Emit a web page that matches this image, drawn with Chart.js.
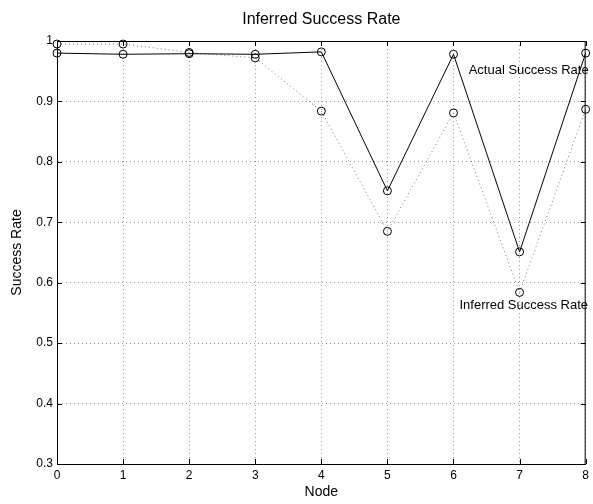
<!DOCTYPE html>
<html>
<head>
<meta charset="utf-8">
<script src="https://cdn.jsdelivr.net/npm/chart.js@4/dist/chart.umd.min.js"></script>
<style>
  html, body { margin: 0; padding: 0; background: #fff; }
  #wrap { width: 593px; height: 504px; }
</style>
</head>
<body>
<div id="wrap"><canvas id="chart" width="593" height="504"></canvas></div>
<script>
// data
const nodes    = ['0', '1', '2', '3', '4', '5', '6', '7', '8'];
const actual   = [0.980, 0.978, 0.979, 0.978, 0.982, 0.752, 0.978, 0.651, 0.980];
const inferred = [0.995, 0.995, 0.981, 0.972, 0.884, 0.685, 0.881, 0.584, 0.887];
const yTicks   = [0.3, 0.4, 0.5, 0.6, 0.7, 0.8, 0.9, 1];

// text labels placed in data coordinates
const notes = [
  { text: 'Actual Success Rate',   x: 6.23, y: 0.952 },
  { text: 'Inferred Success Rate', x: 6.09, y: 0.563 }
];

const FONT = 'Liberation Sans, Arial, Helvetica, sans-serif';

// box on top/right plus inward tick marks, matlab style
const frame = {
  id: 'frame',
  afterDatasetsDraw(chart) {
    const { ctx, chartArea: a, scales } = chart;
    ctx.save();
    ctx.strokeStyle = '#000';
    ctx.lineWidth = 1;
    ctx.strokeRect(a.left + 0.5, a.top + 0.5, a.right - a.left - 1, a.bottom - a.top);
    ctx.beginPath();
    scales.x.ticks.forEach((t, i) => {
      const px = Math.round(scales.x.getPixelForTick(i)) + 0.5;
      ctx.moveTo(px, a.bottom); ctx.lineTo(px, a.bottom - 5);
      ctx.moveTo(px, a.top);    ctx.lineTo(px, a.top + 5);
    });
    scales.y.ticks.forEach(t => {
      const py = Math.round(scales.y.getPixelForValue(t.value)) + 0.5;
      ctx.moveTo(a.left, py);  ctx.lineTo(a.left + 5, py);
      ctx.moveTo(a.right, py); ctx.lineTo(a.right - 5, py);
    });
    ctx.stroke();

    ctx.fillStyle = '#000';
    ctx.font = '13px ' + FONT;
    ctx.textBaseline = 'middle';
    notes.forEach(n => {
      const px = scales.x.getPixelForValue(n.x);
      const py = scales.y.getPixelForValue(n.y);
      ctx.fillText(n.text, px, py);
    });
    ctx.restore();
  }
};

new Chart(document.getElementById('chart'), {
  type: 'line',
  data: {
    labels: nodes,
    datasets: [
      {
        label: 'Actual Success Rate',
        data: actual,
        borderColor: '#000',
        borderWidth: 1,
        pointStyle: 'circle',
        pointRadius: 4,
        pointBorderColor: '#000',
        pointBackgroundColor: 'rgba(0,0,0,0)',
        pointBorderWidth: 1,
        tension: 0,
        clip: false
      },
      {
        label: 'Inferred Success Rate',
        data: inferred,
        borderColor: '#777',
        borderWidth: 1,
        borderDash: [1, 3],
        pointStyle: 'circle',
        pointRadius: 4,
        pointBorderColor: '#000',
        pointBackgroundColor: 'rgba(0,0,0,0)',
        pointBorderWidth: 1,
        tension: 0,
        clip: false
      }
    ]
  },
  options: {
    responsive: false,
    animation: false,
    layout: { padding: { left: 0, right: 3, top: 0, bottom: 0 } },
    plugins: {
      legend: { display: false },
      tooltip: { enabled: false },
      title: {
        display: true,
        fullSize: false,   // centre over the plot box, not the canvas
        text: 'Inferred Success Rate',
        color: '#000',
        font: { family: FONT, size: 16, weight: 'normal' },
        padding: { top: 10, bottom: 11.8 }
      }
    },
    scales: {
      x: {
        type: 'category',
        offset: false,
        grid: { color: '#999', drawTicks: false },
        border: { color: '#000', dash: [1, 3] },
        ticks: { color: '#000', font: { family: FONT, size: 12 }, padding: 4, maxRotation: 0 },
        title: { display: true, text: 'Node', color: '#000', font: { family: FONT, size: 14 }, padding: { top: 3, bottom: 3 } },
        afterFit(s) { s.height = 40; }
      },
      y: {
        type: 'linear',
        min: 0.3,
        max: 1,
        afterBuildTicks(s) { s.ticks = yTicks.map(v => ({ value: v })); },
        grid: { color: '#999', drawTicks: false },
        border: { color: '#000', dash: [1, 3] },
        ticks: {
          color: '#000',
          font: { family: FONT, size: 12 },
          padding: 4,
          callback: v => String(+v.toFixed(1))
        },
        title: { display: true, text: 'Success Rate', color: '#000', font: { family: FONT, size: 14 }, padding: { top: 9, bottom: 9 } },
        afterFit(s) { s.width = 57; }
      }
    }
  },
  plugins: [frame]
});
</script>
</body>
</html>
